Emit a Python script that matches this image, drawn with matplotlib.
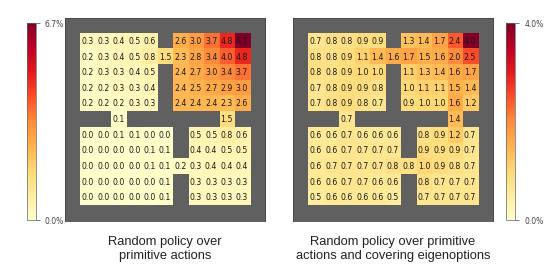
import numpy as np
import matplotlib
matplotlib.use("Agg")
import matplotlib.pyplot as plt

W = np.nan  # wall

# visit percentages, interior 11x11 of the four-rooms grid (walls = nan)
primitive = [
    [0.3, 0.3, 0.4, 0.5, 0.6, W, 2.6, 3.0, 3.7, 4.8, 6.7],
    [0.2, 0.3, 0.4, 0.5, 0.8, 1.5, 2.3, 2.8, 3.4, 4.0, 4.8],
    [0.2, 0.3, 0.3, 0.4, 0.5, W, 2.4, 2.7, 3.0, 3.4, 3.7],
    [0.2, 0.2, 0.3, 0.3, 0.4, W, 2.4, 2.5, 2.7, 2.9, 3.0],
    [0.2, 0.2, 0.2, 0.3, 0.3, W, 2.4, 2.4, 2.4, 2.3, 2.6],
    [W, W, 0.1, W, W, W, W, W, W, 1.5, W],
    [0.0, 0.0, 0.1, 0.1, 0.0, 0.0, W, 0.5, 0.5, 0.8, 0.6],
    [0.0, 0.0, 0.0, 0.0, 0.1, 0.1, W, 0.4, 0.4, 0.5, 0.5],
    [0.0, 0.0, 0.0, 0.0, 0.1, 0.1, 0.2, 0.3, 0.4, 0.4, 0.4],
    [0.0, 0.0, 0.0, 0.0, 0.0, 0.1, W, 0.3, 0.3, 0.3, 0.3],
    [0.0, 0.0, 0.0, 0.0, 0.0, 0.1, W, 0.3, 0.3, 0.3, 0.3],
]

with_options = [
    [0.7, 0.8, 0.8, 0.9, 0.9, W, 1.3, 1.4, 1.7, 2.4, 4.0],
    [0.8, 0.8, 0.9, 1.1, 1.4, 1.6, 1.7, 1.5, 1.6, 2.0, 2.5],
    [0.8, 0.8, 0.9, 1.0, 1.0, W, 1.1, 1.3, 1.4, 1.6, 1.7],
    [0.7, 0.8, 0.9, 0.9, 0.8, W, 1.0, 1.1, 1.1, 1.5, 1.4],
    [0.7, 0.8, 0.9, 0.8, 0.7, W, 0.9, 1.0, 1.0, 1.6, 1.2],
    [W, W, 0.7, W, W, W, W, W, W, 1.4, W],
    [0.6, 0.6, 0.7, 0.6, 0.6, 0.6, W, 0.8, 0.9, 1.2, 0.7],
    [0.6, 0.6, 0.7, 0.7, 0.7, 0.7, W, 0.9, 0.9, 0.9, 0.7],
    [0.6, 0.7, 0.7, 0.7, 0.7, 0.8, 0.8, 1.0, 0.9, 0.8, 0.7],
    [0.6, 0.6, 0.7, 0.7, 0.6, 0.6, W, 0.8, 0.7, 0.7, 0.7],
    [0.5, 0.6, 0.6, 0.6, 0.6, 0.5, W, 0.7, 0.7, 0.7, 0.7],
]

titles = ["Random policy over\nprimitive actions",
          "Random policy over primitive\nactions and covering eigenoptions"]
vmaxes = [6.7, 4.0]

wall_color = "#606060"
cmap = plt.get_cmap("YlOrRd").copy()
cmap.set_bad(wall_color)

fig = plt.figure(figsize=(5.48, 2.74), dpi=100)

heat_pos = [[0.1186, 0.193, 0.365, 0.741], [0.5347, 0.193, 0.365, 0.741]]
cbar_pos = [[0.049, 0.197, 0.0165, 0.719], [0.923, 0.197, 0.0175, 0.719]]
title_x = [0.301, 0.717]

for k, data in enumerate([primitive, with_options]):
    grid = np.full((13, 13), np.nan)
    grid[1:12, 1:12] = np.array(data)

    ax = fig.add_axes(heat_pos[k])
    im = ax.imshow(np.ma.masked_invalid(grid), cmap=cmap, vmin=0, vmax=vmaxes[k],
                   interpolation="nearest", aspect="auto")
    for r in range(13):
        for c in range(13):
            v = grid[r, c]
            if not np.isnan(v):
                ax.text(c, r, "%.1f" % v, ha="center", va="center",
                        fontsize=5.6, color="#1a1a1a")
    ax.set_xticks([])
    ax.set_yticks([])
    for s in ax.spines.values():
        s.set_color("#444444")
        s.set_linewidth(0.6)

    cax = fig.add_axes(cbar_pos[k])
    cb = fig.colorbar(im, cax=cax, ticks=[0, vmaxes[k]])
    cb.ax.set_yticklabels(["0.0%", "%.1f%%" % vmaxes[k]])
    cb.ax.tick_params(labelsize=5.5, length=3, width=0.5, colors="#444444")
    cb.outline.set_linewidth(0.5)
    cb.outline.set_edgecolor("#666666")

    fig.text(title_x[k], 0.09, titles[k], ha="center", va="center",
             fontsize=9.3, family="Liberation Sans", color="#222222",
             multialignment="center")

fig.savefig("out.png", dpi=100)
